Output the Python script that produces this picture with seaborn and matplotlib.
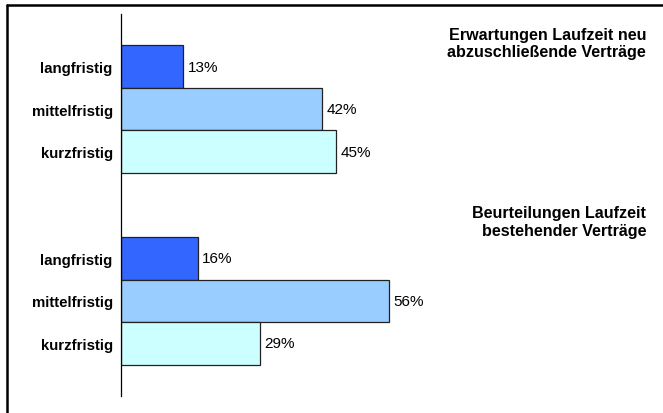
import matplotlib
matplotlib.use("Agg")
import matplotlib.pyplot as plt
from matplotlib.lines import Line2D
import seaborn as sns
import pandas as pd

# Survey results: expected and assessed contract terms (share in %)
terms = ["langfristig", "mittelfristig", "kurzfristig"]
group_titles = ["Erwartungen Laufzeit neu\nabzuschließende Verträge",
                "Beurteilungen Laufzeit\nbestehender Verträge"]
expected_new = [13, 42, 45]
assessed_existing = [16, 56, 29]
term_colors = ["#3366ff", "#99ccff", "#ccffff"]

# vertical slots: two blocks of three bars with a gap between them
group_offsets = [0.0, 4.5]

rows = []
for offset, values in zip(group_offsets, [expected_new, assessed_existing]):
    for i, (term, val) in enumerate(zip(terms, values)):
        rows.append({"pos": offset + i, "term": term, "value": val})
df = pd.DataFrame(rows)

sns.set_theme(style="white")
plt.rcParams["font.family"] = ["Liberation Sans", "DejaVu Sans"]
plt.rcParams["text.color"] = "black"
plt.rcParams["ytick.color"] = "black"

fig = plt.figure(figsize=(6.63, 4.14), dpi=100)
ax = fig.add_axes([121 / 663, 17 / 414, (645 - 121) / 663, 382 / 414])

sns.barplot(data=df, x="value", y="pos", hue="term", palette=term_colors,
            saturation=1, orient="h", native_scale=True, dodge=False,
            width=1.0, edgecolor="#222222", linewidth=0.9, legend=False, ax=ax)

for container in ax.containers:
    ax.bar_label(container, fmt="%d%%", padding=3, fontsize=11, color="black")

ax.set_xlim(0, 109.5)
ax.set_ylim(7.735, -1.235)
ax.set_xticks([])
ax.set_yticks(df["pos"].tolist())
ax.set_yticklabels(df["term"].tolist(), fontweight="bold", fontsize=10.8)
ax.tick_params(axis="y", length=0, pad=6, labelcolor="black")
ax.set_xlabel("")
ax.set_ylabel("")

for side in ["top", "right", "bottom"]:
    ax.spines[side].set_visible(False)
ax.spines["left"].set_color("black")
ax.spines["left"].set_linewidth(0.9)

title_y = [-0.55, 3.64]
for title, ty in zip(group_titles, title_y):
    ax.text(1.002, ty, title, transform=ax.get_yaxis_transform(),
            ha="right", va="center", fontweight="bold", fontsize=11.6,
            linespacing=1.2, color="black")

# frame lines along the top and left edge
fig.add_artist(Line2D([7 / 663, 1.0], [1 - 6 / 414, 1 - 6 / 414],
                      color="black", linewidth=1.8, transform=fig.transFigure))
fig.add_artist(Line2D([7 / 663, 7 / 663], [0.0, 1 - 6 / 414],
                      color="black", linewidth=1.8, transform=fig.transFigure))

fig.savefig("out.png", dpi=100)
